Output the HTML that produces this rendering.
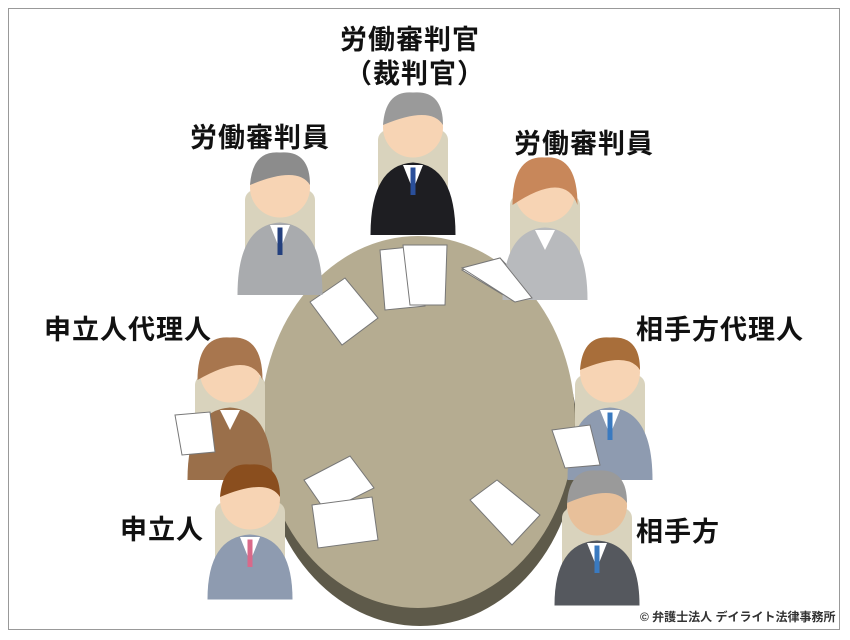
<!DOCTYPE html>
<html><head><meta charset="utf-8"><style>
html,body{margin:0;padding:0;background:#fff}
body{width:850px;height:640px;position:relative;overflow:hidden;font-family:"Liberation Sans","Noto Sans CJK JP",sans-serif}
.frame{position:absolute;left:8px;top:8px;width:832px;height:622px;border:1px solid #999;box-sizing:border-box}
.t{position:absolute;font-weight:bold;font-size:27px;color:#111;white-space:nowrap;letter-spacing:1px}
svg{position:absolute;left:0;top:0}
</style></head><body>
<div class="frame"></div>
<svg width="850" height="640" viewBox="0 0 850 640">
<!-- table -->
<ellipse cx="420" cy="440" rx="158" ry="186" fill="#5e5a4a"/>
<ellipse cx="418" cy="422" rx="157" ry="186" fill="#b5ac91"/>
<g fill="#fff" stroke="#777" stroke-width="1">
<polygon points="380,250 420,246 425,306 385,310"/>
<polygon points="403,245 447,245 445,305 410,305"/>
<polygon points="310,302 345,278 378,318 342,345"/>
<polygon points="462,270 500,258 535,295 515,302"/>
<polygon points="304,480 350,456 374,488 326,512"/>
<polygon points="312,505 372,497 378,540 318,548"/>
<polygon points="470,500 497,480 540,515 512,545"/>
</g>
<!-- judge -->
<g transform="translate(413,140) scale(1.25)">
 <rect x="-28" y="-8" width="56" height="60" rx="8" fill="#d9d3bd"/>
 <path d="M-34 76 Q-34 20 0 18 Q34 20 34 76 Z" fill="#1e1e22"/>
 <path d="M-8 20 L0 40 L8 20 Z" fill="#fff"/><rect x="-2" y="22" width="4" height="22" fill="#2a4f9a"/>
 <circle cx="0" cy="-10" r="24" fill="#f7d4b4"/>
 <path d="M-24 -12 Q-22 -40 0 -38 Q24 -40 24 -12 Q14 -28 -24 -12 Z" fill="#9a9a9a"/>
</g>
<!-- left judge member -->
<g transform="translate(280,200) scale(1.25)">
 <rect x="-28" y="-8" width="56" height="60" rx="8" fill="#d9d3bd"/>
 <path d="M-34 76 Q-34 20 0 18 Q34 20 34 76 Z" fill="#a9abae"/>
 <path d="M-8 20 L0 40 L8 20 Z" fill="#fff"/><rect x="-2" y="22" width="4" height="22" fill="#24407e"/>
 <circle cx="0" cy="-10" r="24" fill="#f7d4b4"/>
 <path d="M-24 -12 Q-22 -40 0 -38 Q24 -40 24 -12 Q14 -28 -24 -12 Z" fill="#8c8c8c"/>
</g>
<!-- right judge member woman -->
<g transform="translate(545,205) scale(1.25)">
 <rect x="-28" y="-8" width="56" height="60" rx="8" fill="#d9d3bd"/>
 <path d="M-34 76 Q-34 20 0 18 Q34 20 34 76 Z" fill="#b8babd"/>
 <path d="M-8 20 L0 36 L8 20 Z" fill="#fff"/>
 <circle cx="0" cy="-10" r="24" fill="#f7d4b4"/>
 <path d="M-26 0 Q-26 -40 0 -38 Q26 -40 26 0 Q16 -28 -26 0 Z" fill="#c8875a"/>
</g>
<!-- left agent woman -->
<g transform="translate(230,385) scale(1.25)">
 <rect x="-28" y="-8" width="56" height="60" rx="8" fill="#d9d3bd"/>
 <path d="M-34 76 Q-34 20 0 18 Q34 20 34 76 Z" fill="#9a6f4a"/>
 <path d="M-8 20 L0 36 L8 20 Z" fill="#fff"/>
 <circle cx="0" cy="-10" r="24" fill="#f7d4b4"/>
 <path d="M-26 -4 Q-26 -40 0 -38 Q26 -40 26 -4 Q16 -28 -26 -4 Z" fill="#a8764e"/>
</g>
<!-- right agent -->
<g transform="translate(610,385) scale(1.25)">
 <rect x="-28" y="-8" width="56" height="60" rx="8" fill="#d9d3bd"/>
 <path d="M-34 76 Q-34 20 0 18 Q34 20 34 76 Z" fill="#8e9bb0"/>
 <path d="M-8 20 L0 40 L8 20 Z" fill="#fff"/><rect x="-2" y="22" width="4" height="22" fill="#3a7ac0"/>
 <circle cx="0" cy="-10" r="24" fill="#f7d4b4"/>
 <path d="M-24 -12 Q-22 -40 0 -38 Q24 -40 24 -12 Q14 -28 -24 -12 Z" fill="#a86e3a"/>
</g>
<!-- bottom left -->
<g transform="translate(250,512) scale(1.25)">
 <rect x="-28" y="-8" width="56" height="60" rx="8" fill="#d9d3bd"/>
 <path d="M-34 70 Q-34 20 0 18 Q34 20 34 70 Z" fill="#8e9bb0"/>
 <path d="M-8 20 L0 40 L8 20 Z" fill="#fff"/><rect x="-2" y="22" width="4" height="22" fill="#d96a8a"/>
 <circle cx="0" cy="-10" r="24" fill="#f7d4b4"/>
 <path d="M-24 -12 Q-22 -40 0 -38 Q24 -40 24 -12 Q14 -28 -24 -12 Z" fill="#8a4e1e"/>
</g>
<!-- bottom right -->
<g transform="translate(597,518) scale(1.25)">
 <rect x="-28" y="-8" width="56" height="60" rx="8" fill="#d9d3bd"/>
 <path d="M-34 70 Q-34 20 0 18 Q34 20 34 70 Z" fill="#55585e"/>
 <path d="M-8 20 L0 40 L8 20 Z" fill="#fff"/><rect x="-2" y="22" width="4" height="22" fill="#3a7ac0"/>
 <circle cx="0" cy="-10" r="24" fill="#e8c09a"/>
 <path d="M-24 -12 Q-22 -40 0 -38 Q24 -40 24 -12 Q14 -28 -24 -12 Z" fill="#9a9a9a"/>
</g>
<g fill="#fff" stroke="#777">
<polygon points="175,415 210,412 215,452 182,455"/>
<polygon points="552,430 590,425 600,465 565,468"/>
<polygon points="462,268 500,258 532,298 515,302"/>
</g>
</svg>
<div class="t" style="left:340px;top:18px">労働審判官</div>
<div class="t" style="left:345px;top:52px">（裁判官）</div>
<div class="t" style="left:190px;top:116px">労働審判員</div>
<div class="t" style="left:514px;top:122px">労働審判員</div>
<div class="t" style="left:44px;top:308px">申立人代理人</div>
<div class="t" style="left:636px;top:308px">相手方代理人</div>
<div class="t" style="left:120px;top:508px">申立人</div>
<div class="t" style="left:636px;top:510px">相手方</div>
<div style="position:absolute;left:640px;top:608px;font-size:12px;font-weight:bold;color:#333">© 弁護士法人 デイライト法律事務所</div>
</body></html>
